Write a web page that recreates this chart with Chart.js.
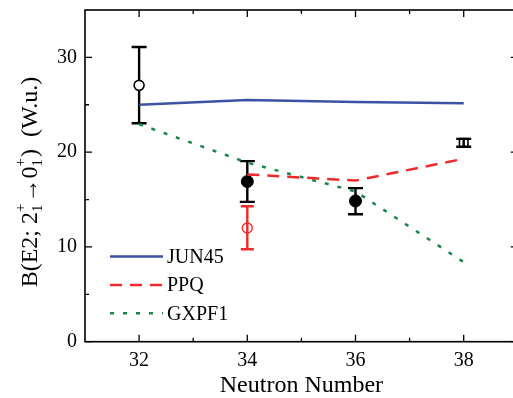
<!DOCTYPE html>
<html><head><meta charset="utf-8">
<script src="https://cdn.jsdelivr.net/npm/chart.js@4/dist/chart.umd.min.js"></script>
<style>html,body{margin:0;padding:0;overflow:hidden;background:#fff}#wrap{width:522px;height:398px;position:relative}</style>
</head><body><div id="wrap"><canvas id="c" width="522" height="398"></canvas></div>
<script>
// ---- data ----
const neutronNumbers = [32, 34, 36, 38];
const jun45 = [25.0, 25.5, 25.3, 25.15];
const ppqX = [34, 36, 38];
const ppq = [17.65, 17.0, 19.3];
const gxpf1 = [22.95, 18.9, 15.85, 8.4];
const expOpenX = [32];
const expOpenY = [27.05];
const expFilledX = [34, 36];
const expFilledY = [16.9, 14.85];
const expSquareX = [38];
const expSquareY = [20.98];
const expBlackX = [32, 34, 36, 38];
const expBlackLo = [23.05, 14.75, 13.45, 20.57];
const expBlackHi = [31.1, 19.05, 16.2, 21.4];
const expRedX = [34];
const expRedY = [12.0];
const expRedLo = [9.75];
const expRedHi = [14.3];
const xTicks = [32, 34, 36, 38];
const xMinorTicks = [33, 35, 37];
const yTicks = [0, 10, 20, 30];
const yMinorTicks = [5, 15, 25];
const seriesNames = ['JUN45', 'PPQ', 'GXPF1'];

const FONT = "'Liberation Serif', 'Times New Roman', serif";
const BLUE = '#3a53a4', RED = '#ee2a2a', GREEN = '#17874a';

const pts = (xs, ys) => xs.map((x, i) => ({x, y: ys[i]}));

const frameTicks = {
  id: 'frameTicks',
  afterDatasetsDraw(chart) {
    const {ctx, chartArea: a, scales: {x, y}} = chart;
    ctx.save();
    ctx.strokeStyle = '#000';
    ctx.lineWidth = 1.6;
    ctx.strokeRect(a.left, a.top, a.right - a.left, a.bottom - a.top);
    ctx.lineWidth = 1.3;
    ctx.beginPath();
    const tx = (v, len) => { const p = x.getPixelForValue(v);
      ctx.moveTo(p, a.bottom); ctx.lineTo(p, a.bottom - len);
      ctx.moveTo(p, a.top); ctx.lineTo(p, a.top + len); };
    const ty = (v, len) => { const p = y.getPixelForValue(v);
      ctx.moveTo(a.left, p); ctx.lineTo(a.left + len, p);
      ctx.moveTo(a.right, p); ctx.lineTo(a.right - len, p); };
    xTicks.forEach(v => tx(v, 7)); xMinorTicks.forEach(v => tx(v, 4));
    yTicks.forEach(v => ty(v, 7)); yMinorTicks.forEach(v => ty(v, 4));
    ctx.stroke();
    ctx.restore();
  }
};

const errorBars = {
  id: 'errorBars',
  beforeDatasetDraw(chart, args) {
    if (args.index !== 3) return;
    const {ctx, scales: {x, y}} = chart;
    const draw = (xs, lo, hi, color, cap) => {
      ctx.strokeStyle = color; ctx.lineWidth = 2.4; ctx.beginPath();
      xs.forEach((v, i) => {
        const px = x.getPixelForValue(v), a = y.getPixelForValue(lo[i]), b = y.getPixelForValue(hi[i]);
        ctx.moveTo(px, a); ctx.lineTo(px, b);
        ctx.moveTo(px - cap, a); ctx.lineTo(px + cap, a);
        ctx.moveTo(px - cap, b); ctx.lineTo(px + cap, b);
      });
      ctx.stroke();
    };
    ctx.save();
    draw(expBlackX, expBlackLo, expBlackHi, '#000', 7.5);
    draw(expRedX, expRedLo, expRedHi, RED, 6.5);
    ctx.restore();
  }
};

const legendBox = {
  id: 'legendBox',
  afterDatasetsDraw(chart) {
    const {ctx} = chart;
    ctx.save();
    ctx.font = '20px ' + FONT;
    ctx.textBaseline = 'middle';
    ctx.fillStyle = '#000';
    [0, 1, 2].forEach((di, i) => {
      const ds = chart.data.datasets[di];
      const yy = 256.5 + i * 28.4;
      ctx.strokeStyle = ds.borderColor; ctx.lineWidth = ds.borderWidth;
      ctx.setLineDash(ds.borderDash || []);
      ctx.beginPath(); ctx.moveTo(110, yy); ctx.lineTo(163, yy); ctx.stroke();
      ctx.setLineDash([]);
      ctx.fillText(ds.label, 167, yy + 1);
    });
    ctx.restore();
  }
};

const yTitle = {
  id: 'yTitle',
  afterDraw(chart) {
    const {ctx} = chart;
    const fs = 24, ss = 15;
    const main = fs + 'px ' + FONT, small = ss + 'px ' + FONT;
    const parts = [
      {t: 'B(E2; 2'}, {sub: '1', sup: '+'}, {t: '\u2192'}, {t: '0'}, {sub: '1', sup: '+'}, {t: ')  (W.u.)'}
    ];
    ctx.save();
    let w = 0;
    parts.forEach(p => {
      if (p.t) { ctx.font = main; p.w = ctx.measureText(p.t).width; }
      else { ctx.font = small; p.w = Math.max(ctx.measureText(p.sub).width, ctx.measureText(p.sup).width) + 1; }
      w += p.w;
    });
    ctx.translate(37, 182 + w / 2);
    ctx.rotate(-Math.PI / 2);
    ctx.fillStyle = '#000';
    ctx.textBaseline = 'alphabetic';
    let cx = 0;
    parts.forEach(p => {
      if (p.t) { ctx.font = main; ctx.fillText(p.t, cx, 0); }
      else { ctx.font = small; ctx.fillText(p.sub, cx, 5); ctx.fillText(p.sup, cx, -12); }
      cx += p.w;
    });
    ctx.restore();
  }
};

new Chart(document.getElementById('c'), {
  type: 'scatter',
  data: {
    datasets: [
      {type: 'line', label: seriesNames[0], data: pts(neutronNumbers, jun45), borderColor: BLUE, borderWidth: 2.5, pointRadius: 0, fill: false},
      {type: 'line', label: seriesNames[1], data: pts(ppqX, ppq), borderColor: RED, borderWidth: 2.5, borderDash: [12, 8], pointRadius: 0, fill: false},
      {type: 'line', label: seriesNames[2], data: pts(neutronNumbers, gxpf1), borderColor: GREEN, borderWidth: 2.5, borderDash: [4, 9], pointRadius: 0, fill: false},
      {label: 'exp open', data: pts(expOpenX, expOpenY), pointStyle: 'circle', pointRadius: 5, backgroundColor: '#fff', borderColor: '#000', borderWidth: 1.6},
      {label: 'exp filled', data: pts(expFilledX, expFilledY), pointStyle: 'circle', pointRadius: 6, backgroundColor: '#000', borderColor: '#000', borderWidth: 1},
      {label: 'exp square', data: pts(expSquareX, expSquareY), pointStyle: 'rect', pointRadius: 6, backgroundColor: '#fff', borderColor: '#000', borderWidth: 1.6},
      {label: 'exp red', data: pts(expRedX, expRedY), pointStyle: 'circle', pointRadius: 5, backgroundColor: '#fff', borderColor: RED, borderWidth: 1.4}
    ]
  },
  options: {
    responsive: false,
    devicePixelRatio: 1,
    animation: false,
    events: [],
    layout: {autoPadding: false, padding: {left: 0, top: 10, right: 4.2, bottom: 0}},
    plugins: {legend: {display: false}, tooltip: {enabled: false}},
    scales: {
      x: {
        type: 'linear', min: 31, max: 39,
        afterBuildTicks: s => { s.ticks = xTicks.map(v => ({value: v})); },
        afterFit: s => { s.height = 56.3; s.paddingLeft = 0; s.paddingRight = 0; },
        grid: {display: false, drawTicks: false},
        border: {display: false},
        ticks: {font: {family: FONT, size: 20}, color: '#000', padding: 7, maxRotation: 0},
        title: {display: true, text: 'Neutron Number', font: {family: FONT, size: 24, lineHeight: 1}, color: '#000', padding: {top: 0, bottom: 0}}
      },
      y: {
        type: 'linear', min: 0, max: 35,
        afterBuildTicks: s => { s.ticks = yTicks.map(v => ({value: v})); },
        afterFit: s => { s.width = 85; s.paddingTop = 0; s.paddingBottom = 0; },
        grid: {display: false, drawTicks: false},
        border: {display: false},
        ticks: {font: {family: FONT, size: 20}, color: '#000', padding: 8}
      }
    }
  },
  plugins: [errorBars, frameTicks, legendBox, yTitle]
});
</script></body></html>
